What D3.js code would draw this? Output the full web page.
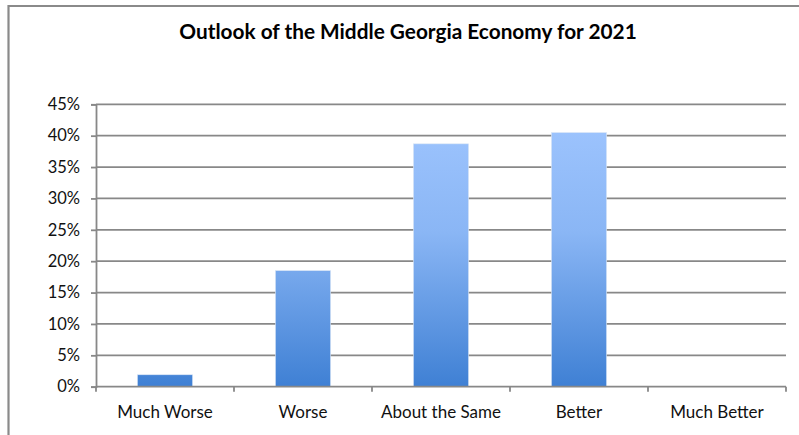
<!DOCTYPE html>
<html>
<head>
<meta charset="utf-8">
<script src="https://cdn.jsdelivr.net/npm/d3@7"></script>
<style>
  html, body { margin: 0; padding: 0; background: #fff; }
  svg { display: block; }
</style>
</head>
<body>
<svg id="chart" width="799" height="435"></svg>
<script>
// Survey responses: share of respondents per outlook category
const categories = ["Much Worse", "Worse", "About the Same", "Better", "Much Better"];
const shares = [0.019, 0.185, 0.387, 0.405, 0];
const yTicks = [0, 0.05, 0.10, 0.15, 0.20, 0.25, 0.30, 0.35, 0.40, 0.45];
const titleText = "Outlook of the Middle Georgia Economy for 2021";

const W = 799, H = 435;
const plot = { left: 96, right: 786, top: 104.3, bottom: 386.7 };
const font = "Lato, 'Open Sans', sans-serif";
const gridColor = "#888888";

const svg = d3.select("#chart");

// Outer frame (top and left edges visible)
svg.append("line").attr("x1", 8).attr("x2", W).attr("y1", 6).attr("y2", 6)
  .attr("stroke", "#8a8a8a").attr("stroke-width", 2.2);
svg.append("line").attr("x1", 8.5).attr("x2", 8.5).attr("y1", 5).attr("y2", H)
  .attr("stroke", "#8a8a8a").attr("stroke-width", 2.2);

// Title
svg.append("text")
  .attr("x", 408).attr("y", 39)
  .attr("text-anchor", "middle")
  .attr("font-family", font).attr("font-weight", "bold")
  .attr("font-size", 20.8).attr("fill", "#000")
  .text(titleText);

const x = d3.scaleBand().domain(categories).range([plot.left, plot.right]).paddingInner(0.6).paddingOuter(0.3);
const xOuter = d3.scaleBand().domain(categories).range([plot.left, plot.right]);
const y = d3.scaleLinear().domain([0, 0.45]).range([plot.bottom, plot.top]);

// Gradient fill for bars
const defs = svg.append("defs");
const grad = defs.append("linearGradient").attr("id", "barGrad")
  .attr("gradientUnits", "userSpaceOnUse")
  .attr("x1", 0).attr("y1", plot.top + 25).attr("x2", 0).attr("y2", plot.bottom);
grad.append("stop").attr("offset", "0%").attr("stop-color", "#9cc3fd");
grad.append("stop").attr("offset", "40%").attr("stop-color", "#8ab6f5");
grad.append("stop").attr("offset", "100%").attr("stop-color", "#3f80d4");

// Horizontal gridlines
svg.append("g").selectAll("line").data(yTicks.slice(1)).join("line")
  .attr("x1", plot.left).attr("x2", plot.right)
  .attr("y1", d => y(d)).attr("y2", d => y(d))
  .attr("stroke", gridColor).attr("stroke-width", 1.8);

// Y axis
const yAxis = d3.axisLeft(y).tickValues(yTicks).tickFormat(d3.format(".0%")).tickSize(5).tickPadding(11);
const gy = svg.append("g").attr("transform", `translate(${plot.left},0)`).call(yAxis);
gy.select(".domain").attr("stroke", gridColor).attr("stroke-width", 1.8);
gy.selectAll(".tick line").attr("stroke", gridColor).attr("stroke-width", 1.8);
gy.selectAll(".tick text").attr("font-family", font).attr("font-size", 16.5).attr("fill", "#111");

// Bars
svg.append("g").selectAll("rect").data(shares).join("rect")
  .attr("x", (d, i) => x(categories[i]))
  .attr("width", x.bandwidth())
  .attr("y", d => y(d))
  .attr("height", d => y(0) - y(d))
  .attr("fill", "url(#barGrad)")
  .attr("stroke", "#dbe6f5").attr("stroke-width", 0.6);

// X axis with ticks at category boundaries
const gx = svg.append("g").attr("transform", `translate(0,${plot.bottom})`);
gx.append("line").attr("x1", plot.left).attr("x2", plot.right).attr("y1", 0).attr("y2", 0)
  .attr("stroke", gridColor).attr("stroke-width", 1.8);
const boundaries = categories.map(c => xOuter(c)).concat([plot.right]);
gx.selectAll("line.b").data(boundaries).join("line").attr("class", "b")
  .attr("x1", d => d).attr("x2", d => d).attr("y1", 0).attr("y2", 5)
  .attr("stroke", gridColor).attr("stroke-width", 1.8);
gx.selectAll("text").data(categories).join("text")
  .attr("x", d => xOuter(d) + xOuter.bandwidth() / 2)
  .attr("y", 31.5)
  .attr("text-anchor", "middle")
  .attr("font-family", font).attr("font-size", 17).attr("fill", "#111")
  .text(d => d);
</script>
</body>
</html>
